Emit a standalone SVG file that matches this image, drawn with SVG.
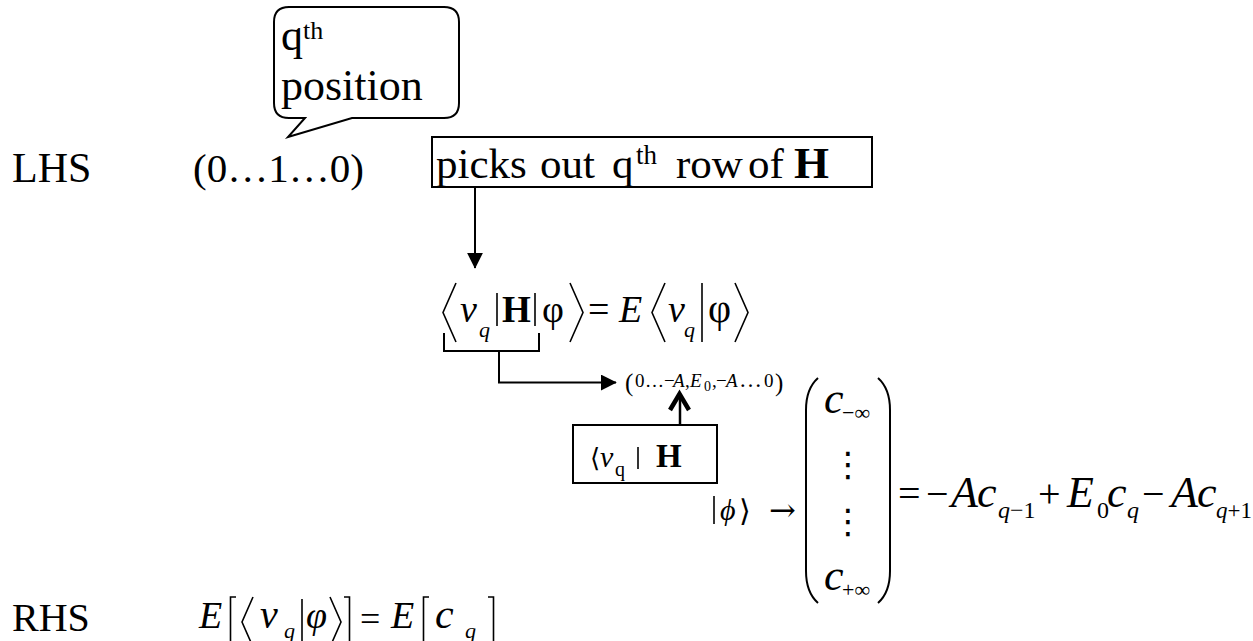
<svg xmlns="http://www.w3.org/2000/svg" width="1253" height="641" viewBox="0 0 1253 641">
<defs>
<style>
text { font-family: "Liberation Serif", "DejaVu Serif", serif; fill: #000; }
.sym { font-family: "DejaVu Serif", "DejaVu Sans", serif; }
.i { font-style: italic; }
.b { font-weight: bold; }
.ln { stroke: #000; fill: none; stroke-width: 2; }
.dl { stroke: #000; fill: none; stroke-width: 1.6; }
.bx { stroke: #000; fill: #fff; stroke-width: 2; }
</style>
<marker id="arr" viewBox="0 0 10 10" refX="9.5" refY="5" markerWidth="16" markerHeight="16" markerUnits="userSpaceOnUse" orient="auto">
<path d="M0,0 L10,5 L0,10 Z" fill="#000"/>
</marker>
</defs>
<rect width="1253" height="641" fill="#fff"/>

<g id="bubble">
<path class="ln" d="M289,7 H444 Q459,7 459,22 V103 Q459,118 444,118 H352 L288,137 L305,118 H289 Q274,118 274,103 V22 Q274,7 289,7 Z"/>
<text x="281" y="50" font-size="44">q<tspan font-size="26" dy="-11">th</tspan></text>
<text x="281" y="100" font-size="44">position</text>
</g>

<g id="lhs-label">
<text x="12" y="182" font-size="42">LHS</text>
</g>

<g id="unit-vector">
<text x="193" y="182" font-size="41">(0…1…0)</text>
</g>

<g id="picks-box">
<rect class="bx" x="432" y="137" width="440" height="50"/>
<text y="178" font-size="43"><tspan x="436">picks</tspan><tspan x="540">out</tspan><tspan x="612">q</tspan><tspan x="636" y="164" font-size="27">th</tspan><tspan x="676" y="178">row</tspan><tspan x="748">of</tspan><tspan x="794" class="b" font-size="45">H</tspan></text>
</g>

<g id="eq-main">
<path class="dl" d="M456,283 L443,312.5 L456,342"/>
<path class="dl" d="M497,293 V326"/>
<path class="dl" d="M535,293 V326"/>
<path class="dl" d="M570,283 L583,312.5 L570,342"/>
<path class="dl" d="M665,283 L652,312.5 L665,342"/>
<path class="dl" d="M702,283 V342"/>
<path class="dl" d="M735,283 L748,312.5 L735,342"/>
<text x="460" y="322" font-size="38" class="i">v</text>
<text x="479" y="337" font-size="22" class="i">q</text>
<text x="502" y="322" font-size="37" class="b">H</text>
<text x="542" y="322" font-size="38">φ</text>
<text x="588" y="322" font-size="38">=</text>
<text x="619" y="322" font-size="38" class="i">E</text>
<text x="668" y="322" font-size="38" class="i">v</text>
<text x="684" y="337" font-size="22" class="i">q</text>
<text x="708" y="322" font-size="40">φ</text>
</g>

<g id="row-vector">
<text y="387" font-size="19"><tspan x="625" font-size="25" y="391">(</tspan><tspan x="635" y="387">0</tspan><tspan x="645">…</tspan><tspan x="664">−</tspan><tspan x="673" class="i">A</tspan><tspan x="685">,</tspan><tspan x="690" class="i">E</tspan><tspan x="704" y="391" font-size="14">0</tspan><tspan x="712" y="387">,</tspan><tspan x="716">−</tspan><tspan x="726" class="i">A</tspan><tspan x="739" font-size="23">…</tspan><tspan x="764">0</tspan><tspan x="775" font-size="25" y="391">)</tspan></text>
</g>

<g id="bra-H-box">
<rect class="bx" x="573" y="425" width="144" height="58"/>
<text x="590" y="467" font-size="26" class="sym">⟨</text>
<text x="600" y="467" font-size="30" class="i">v</text>
<text x="615" y="476" font-size="20">q</text>
<path class="dl" d="M638,447 V469"/>
<text x="656" y="467" font-size="33" class="b">H</text>
</g>

<g id="ket-phi">
<path class="dl" d="M714,496 V524"/>
<text x="720" y="520" font-size="30" class="i">ϕ</text>
<text x="739" y="521" font-size="30" class="sym">⟩</text>
<text x="769" y="521" font-size="32" class="sym">→</text>
</g>

<g id="column-vector">
<path class="ln" d="M818,378 C809,386 806,396 806,410 V571 C806,585 809,595 818,603"/>
<path class="ln" d="M878,378 C887,386 890,396 890,410 V571 C890,585 887,595 878,603"/>
<text x="824" y="413" font-size="44" class="i">c</text>
<text x="842" y="420" font-size="22">−∞</text>
<text x="848" y="476" font-size="34" text-anchor="middle" class="sym">⋮</text>
<text x="848" y="533" font-size="34" text-anchor="middle" class="sym">⋮</text>
<text x="824" y="590" font-size="44" class="i">c</text>
<text x="842" y="597" font-size="22">+∞</text>
</g>

<g id="eq-rhs-expansion">
<text y="507" font-size="44"><tspan x="898" font-size="40">=</tspan><tspan x="926" font-size="40">−</tspan><tspan x="951" class="i">A</tspan><tspan x="977" class="i">c</tspan><tspan x="998" y="518" font-size="24"><tspan class="i">q</tspan>−1</tspan><tspan x="1038" y="507" font-size="40">+</tspan><tspan x="1067" class="i">E</tspan><tspan x="1097" y="518" font-size="24">0</tspan><tspan x="1107" y="507" class="i">c</tspan><tspan x="1127" y="518" font-size="24" class="i">q</tspan><tspan x="1142" y="507" font-size="40">−</tspan><tspan x="1171" class="i">A</tspan><tspan x="1197" class="i">c</tspan><tspan x="1216" y="518" font-size="23"><tspan class="i">q</tspan>+1</tspan></text>
</g>

<g id="rhs-label">
<text x="12" y="631" font-size="40">RHS</text>
</g>

<g id="eq-rhs">
<text x="199" y="628" font-size="38" class="i">E</text>
<path class="dl" d="M236,597 H230.5 V650 H236"/>
<path class="dl" d="M253,597 L242,622 L253,647"/>
<text x="260" y="628" font-size="40" class="i">v</text>
<text x="284" y="638" font-size="22" class="i">q</text>
<path class="dl" d="M302,599 V645"/>
<text x="306" y="628" font-size="38" class="i">φ</text>
<path class="dl" d="M330,597 L341,622 L330,647"/>
<path class="dl" d="M344,597 H349.5 V650 H344"/>
<text x="360" y="631" font-size="36">=</text>
<text x="391" y="628" font-size="38" class="i">E</text>
<path class="dl" d="M429,597 H423.5 V650 H429"/>
<text x="435" y="628" font-size="42" class="i">c</text>
<text x="465" y="638" font-size="22" class="i">q</text>
<path class="dl" d="M488,597 H493.5 V650 H488"/>
</g>

<g id="connectors">
<path class="ln" d="M475,187 V268" marker-end="url(#arr)"/>
<path class="ln" d="M444,333 V351 H539 V333"/>
<path class="ln" d="M499,351 V382.5 H616" marker-end="url(#arr)"/>
<path stroke="#000" fill="none" stroke-width="2.5" d="M680,396 V425"/>
<path stroke="#000" fill="none" stroke-width="4.5" stroke-linejoin="miter" d="M670,410 L679.5,394 L689,410"/>
</g>
</svg>
